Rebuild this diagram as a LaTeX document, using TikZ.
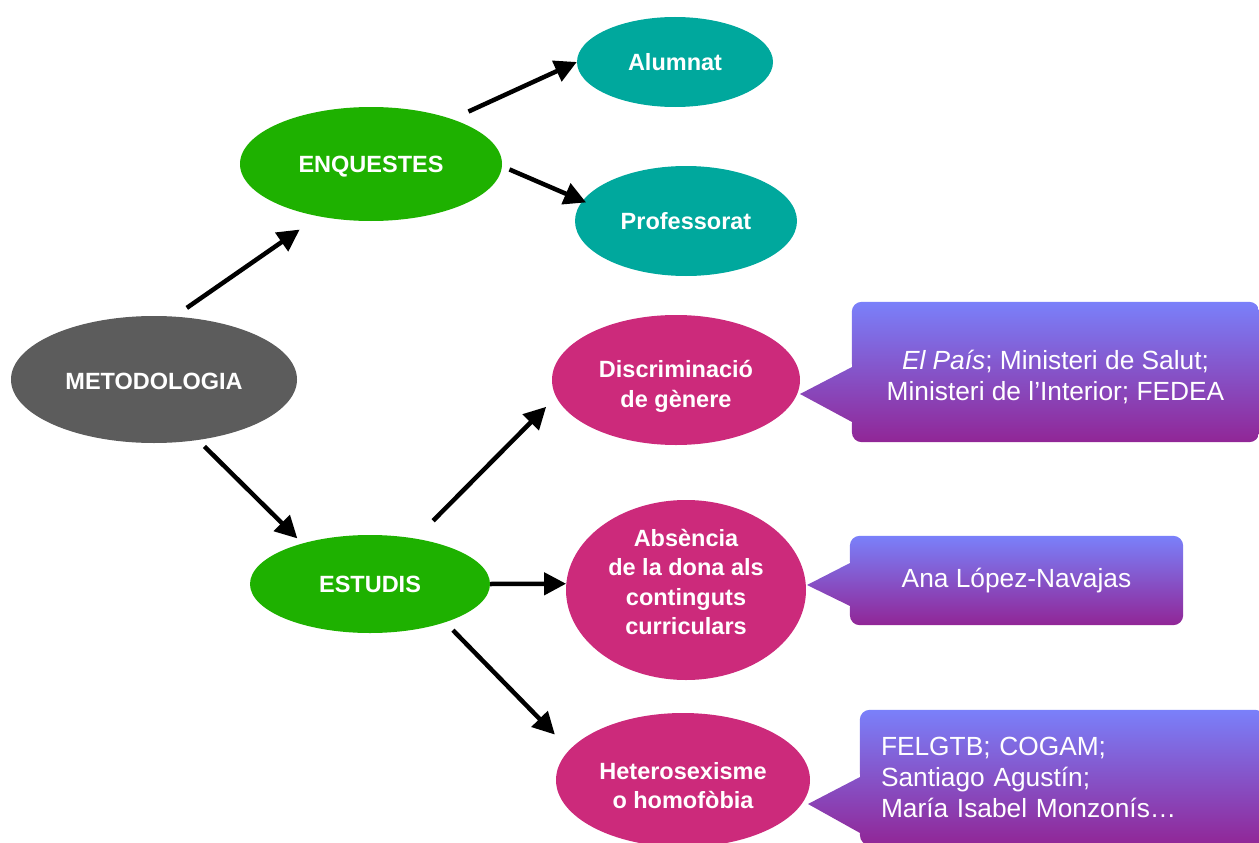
\documentclass[tikz,border=0pt]{standalone}
\usepackage{fontspec}
\setmainfont{Liberation Sans}
\usetikzlibrary{shapes.geometric,arrows.meta,backgrounds}
\definecolor{cgray}{RGB}{92,92,92}
\definecolor{cgreen}{RGB}{30,177,0}
\definecolor{cteal}{RGB}{0,168,157}
\definecolor{cmag}{RGB}{204,42,123}
\definecolor{ctop}{RGB}{122,128,250}
\definecolor{cbot}{RGB}{145,38,150}
\begin{document}
\begin{tikzpicture}[x=1pt,y=-1pt,
  oval/.style={ellipse, inner sep=0pt, text=white, align=center,
    font=\fontsize{23.5}{29.5}\selectfont\bfseries},
  arr/.style={line width=4.5pt, -{Triangle[length=22pt,width=22pt]}},
  calltext/.style={inner sep=0pt, text=white, font=\fontsize{26.3}{31}\selectfont},
  callfill/.style={top color=ctop, bottom color=cbot, draw=none}]
\useasboundingbox (0,0) rectangle (1259,843);
\clip (0,0) rectangle (1259,843);

\node[oval, fill=cgray, minimum width=286pt, minimum height=127pt, text height=19.6pt, text depth=0pt] (metod) at (154,379.5) {METODOLOGIA};
\node[oval, fill=cgreen, minimum width=262pt, minimum height=114pt, text height=17.4pt, text depth=0pt] (enq) at (371,164) {ENQUESTES};
\node[oval, fill=cteal, minimum width=196pt, minimum height=90pt] (alum) at (675,62) {Alumnat};
\node[oval, fill=cteal, minimum width=222pt, minimum height=110pt] (prof) at (686,221) {Professorat};
\node[oval, fill=cgreen, minimum width=240pt, minimum height=98pt] (estudis) at (370,584) {ESTUDIS};
\node[oval, fill=cmag, minimum width=248pt, minimum height=130pt, text height=54.6pt, text depth=0pt] (disc) at (676,380) {Discriminació\\de gènere};
\node[oval, fill=cmag, minimum width=240pt, minimum height=180pt, text height=89pt, text depth=0pt] (abs) at (686,590) {Absència\\de la dona als\\continguts\\curriculars};
\node[oval, fill=cmag, minimum width=254pt, minimum height=134pt, text height=57pt, text depth=0pt] (het) at (683,780) {Heterosexisme\\o homofòbia};

\draw[arr, shorten <=15pt, shorten >=23pt] (metod.72) -- (enq.225);
\draw[arr, shorten <=9pt, shorten >=7pt] (metod.-54) -- (estudis.149);
\draw[arr, shorten <=18pt] (enq.29) -- (alum.180);
\draw[arr, shorten <=8pt, shorten >=-4pt] (enq.-1) -- (prof.169);
\draw[arr, shorten <=25pt, shorten >=14pt] (estudis.45) -- (disc.188);
\draw[arr] (estudis.0) -- (abs.177);
\draw[arr, shorten <=11pt, shorten >=21pt] (estudis.-27) -- (het.165);

% callouts
\node[calltext, align=center, minimum width=407pt, minimum height=140pt, text height=56pt, text depth=0pt] (c1) at (1055.5,372)
  {{\itshape El País}; Ministeri de Salut;\\Ministeri de l’Interior; FEDEA};
\node[calltext, align=center, minimum width=333pt, minimum height=89pt] (c2) at (1016.5,580.5)
  {Ana López-Navajas};
\node[calltext, align=left, text width=363pt, inner xsep=21pt, minimum height=135pt, text height=0pt, text depth=45pt] (c3) at (1062.5,777.5)
  {FELGTB; COGAM;\\Santiago Agustín;\\María Isabel Monzonís…};

\coordinate (t1) at (800,394);
\coordinate (b1a) at (852,367);
\coordinate (b1b) at (852,422);
\coordinate (t2) at (807,585);
\coordinate (b2a) at (850,563);
\coordinate (b2b) at (850,606);
\coordinate (t3) at (808,804);
\coordinate (b3a) at (860,777);
\coordinate (b3b) at (860,833);

\begin{scope}[on background layer]
\path[callfill] (b1a) [rounded corners=10pt] -- (c1.north west) -- (c1.north east) -- (c1.south east) -- (c1.south west) [sharp corners] -- (b1b) -- (t1) -- cycle;
\path[callfill] (b2a) [rounded corners=10pt] -- (c2.north west) -- (c2.north east) -- (c2.south east) -- (c2.south west) [sharp corners] -- (b2b) -- (t2) -- cycle;
\path[callfill] (b3a) [rounded corners=10pt] -- (c3.north west) -- (c3.north east) -- (c3.south east) -- (c3.south west) [sharp corners] -- (b3b) -- (t3) -- cycle;
\end{scope}
\end{tikzpicture}
\end{document}
